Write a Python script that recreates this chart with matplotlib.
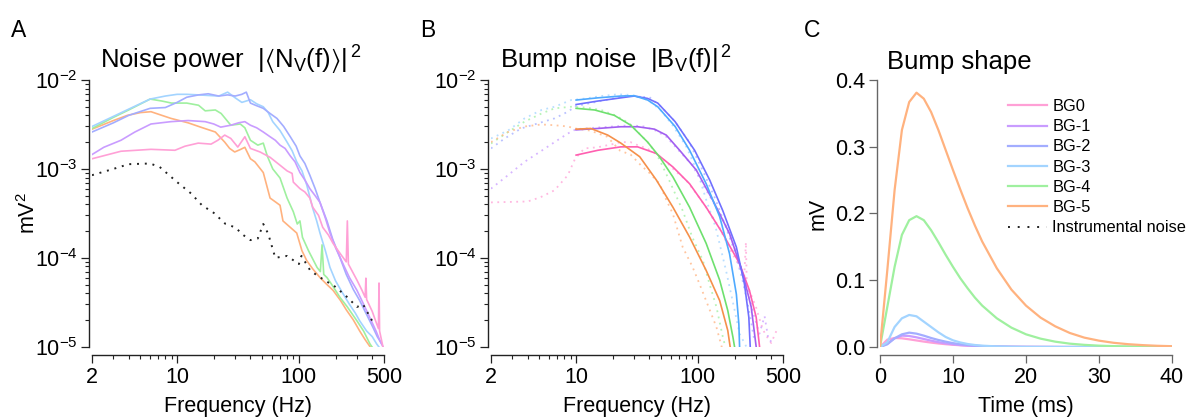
import matplotlib
matplotlib.use("Agg")
import matplotlib.pyplot as plt
from matplotlib.ticker import FixedLocator, FixedFormatter, NullFormatter, LogLocator

plt.rcParams["font.family"] = ["Liberation Sans", "DejaVu Sans"]
plt.rcParams["mathtext.fontset"] = "custom"
plt.rcParams["mathtext.rm"] = "Liberation Sans"
plt.rcParams["mathtext.it"] = "Liberation Sans:italic"
plt.rcParams["mathtext.sf"] = "Liberation Sans"
plt.rcParams["mathtext.fallback"] = "stixsans"

# ---- panel A: noise power spectra (Hz, mV^2) ----
a_bg0_f = [2, 3.46, 6.1, 9.6, 11.6, 14.9, 19, 21.6, 24.6, 27.6, 31.5, 36, 40, 48, 58, 70, 80, 88, 90,
           102, 112, 123, 130, 145, 157, 175, 191, 220, 245, 250, 255, 275, 300, 330, 350, 355, 360,
           400, 436, 450, 455, 460, 490]
a_bg0_p = [1.3e-3, 1.58e-3, 1.66e-3, 1.62e-3, 1.8e-3, 1.95e-3, 1.9e-3, 2.1e-3, 2.4e-3, 2.2e-3, 1.76e-3,
           2.3e-3, 1.7e-3, 1.55e-3, 1.35e-3, 1.1e-3, 9.5e-4, 8.9e-4, 7.1e-4, 6.0e-4, 5.5e-4, 4.7e-4,
           3.7e-4, 3.0e-4, 2.2e-4, 1.8e-4, 1.45e-4, 1.1e-4, 9.0e-5, 2.6e-4, 8.5e-5, 7.0e-5, 5.6e-5,
           4.3e-5, 3.6e-5, 5.9e-5, 3.4e-5, 2.5e-5, 1.8e-5, 1.6e-5, 5.2e-5, 1.5e-5, 1.0e-5]
a_bg1_f = [2, 2.5, 3.46, 4.5, 6.1, 8.9, 12.3, 17, 20, 22.8, 27.6, 32, 36, 40, 45, 51, 58, 64, 70, 77,
           85, 93, 102, 112, 123, 136, 149, 165, 180, 200, 229, 260, 300, 340, 384, 430, 463, 490]
a_bg1_p = [1.45e-3, 1.75e-3, 2.1e-3, 2.6e-3, 3.2e-3, 3.4e-3, 3.5e-3, 3.4e-3, 3.2e-3, 2.95e-3, 3.1e-3,
           3.3e-3, 3.4e-3, 3.1e-3, 2.9e-3, 2.6e-3, 2.3e-3, 2.1e-3, 1.85e-3, 1.7e-3, 1.4e-3, 1.2e-3,
           9.1e-4, 7.5e-4, 6.0e-4, 5.0e-4, 4.2e-4, 2.8e-4, 1.9e-4, 1.3e-4, 8.7e-5, 6.0e-5, 4.3e-5,
           3.0e-5, 2.1e-5, 1.5e-5, 1.17e-5, 1.0e-5]
a_bg2_f = [2, 3, 4, 6, 8, 10, 12, 15, 18, 22, 26, 30, 34, 37, 40, 44, 51, 58, 66, 75, 85, 95, 102,
           112, 123, 136, 149, 170, 190, 215, 245, 280, 316, 360, 405, 440, 480]
a_bg2_p = [2.6e-3, 3.3e-3, 4.0e-3, 4.8e-3, 4.9e-3, 5.6e-3, 6.4e-3, 6.8e-3, 7.0e-3, 6.6e-3, 6.8e-3,
           6.6e-3, 6.9e-3, 7.3e-3, 5.5e-3, 5.2e-3, 4.8e-3, 4.2e-3, 3.7e-3, 3.0e-3, 2.3e-3, 1.8e-3,
           1.4e-3, 1.15e-3, 8.5e-4, 6.0e-4, 4.2e-4, 2.6e-4, 1.6e-4, 1.05e-4, 6.5e-5, 4.4e-5, 3.3e-5,
           2.3e-5, 1.66e-5, 1.3e-5, 1.07e-5]
a_bg3_f = [2, 3, 4, 6, 8, 10, 12, 15, 18, 22, 26, 30, 34, 40, 45, 51, 56, 61, 70, 80, 88, 96, 106,
           116, 130, 140, 149, 165, 180, 200, 229, 260, 290, 316, 360, 400, 436, 480]
a_bg3_p = [3.0e-3, 3.9e-3, 4.7e-3, 6.1e-3, 6.6e-3, 6.9e-3, 6.9e-3, 6.8e-3, 6.7e-3, 6.6e-3, 7.3e-3,
           6.3e-3, 5.6e-3, 6.0e-3, 5.4e-3, 5.0e-3, 4.3e-3, 3.4e-3, 2.7e-3, 2.0e-3, 1.6e-3, 1.2e-3,
           9.5e-4, 6.6e-4, 3.6e-4, 2.6e-4, 1.9e-4, 1.2e-4, 7.8e-5, 5.5e-5, 4.0e-5, 3.0e-5, 2.4e-5,
           1.95e-5, 1.5e-5, 1.3e-5, 1.07e-5, 9e-6]
a_bg4_f = [2, 3, 4, 6, 7.5, 9, 12, 15, 17, 20.6, 23, 27.6, 33, 36, 40, 46, 51, 55, 61, 70, 80, 90,
           97, 102, 107, 120, 141, 150, 155, 160, 170, 190, 217, 250, 300, 340, 384, 420]
a_bg4_p = [2.85e-3, 3.8e-3, 4.6e-3, 6.1e-3, 5.8e-3, 5.5e-3, 5.5e-3, 5.2e-3, 4.5e-3, 4.6e-3, 4.2e-3,
           3.1e-3, 3.2e-3, 2.9e-3, 2.1e-3, 1.85e-3, 1.95e-3, 1.4e-3, 1.0e-3, 7.9e-4, 4.7e-4, 3.3e-4,
           2.4e-4, 2.6e-4, 1.7e-4, 1.2e-4, 7.8e-5, 7.0e-5, 1.4e-4, 6.5e-5, 6.0e-5, 4.8e-5, 3.6e-5,
           2.8e-5, 1.95e-5, 1.5e-5, 1.07e-5, 9e-6]
a_bg5_f = [2, 3, 3.9, 5, 6.1, 7.5, 8.9, 12.3, 15.6, 20.6, 24.6, 27, 29.7, 33, 36, 40, 43.5, 51, 58,
           65, 70, 74, 85, 96, 106, 116, 130, 149, 170, 191, 220, 245, 280, 316, 350, 384]
a_bg5_p = [2.8e-3, 3.5e-3, 4.0e-3, 4.3e-3, 4.4e-3, 4.0e-3, 3.7e-3, 3.3e-3, 2.95e-3, 2.6e-3, 2.0e-3,
           1.7e-3, 1.55e-3, 1.65e-3, 1.75e-3, 1.3e-3, 1.2e-3, 9.1e-4, 4.7e-4, 4.2e-4, 3.9e-4, 2.6e-4,
           2.2e-4, 1.9e-4, 1.2e-4, 9.3e-5, 7.5e-5, 6.0e-5, 5.0e-5, 4.3e-5, 3.3e-5, 2.6e-5, 2.0e-5,
           1.5e-5, 1.2e-5, 1.0e-5]
instr_f = [2, 3, 4, 6, 7.2, 10, 13, 16, 20, 25, 30, 35, 40, 46, 51, 56, 64, 80, 100, 105, 124, 142,
           150, 200, 250, 300, 336, 400, 435]
instr_p = [8.5e-4, 1.0e-3, 1.13e-3, 1.15e-3, 1.05e-3, 7.1e-4, 5.3e-4, 3.9e-4, 3.2e-4, 2.4e-4, 2.2e-4,
           1.8e-4, 1.58e-4, 1.65e-4, 2.4e-4, 1.86e-4, 1.0e-4, 1.05e-4, 8.5e-5, 1.05e-4, 7.2e-5, 6.3e-5,
           6.0e-5, 4.7e-5, 3.6e-5, 2.8e-5, 3.0e-5, 1.95e-5, 1.95e-5]

# ---- panel B: bump noise, raw (dotted) and fits (solid, from 10 Hz) ----
b_raw_bg0_f = [2, 4, 5.1, 6.65, 8.55, 9.8, 11.7, 15, 20, 23.3, 28, 32, 38, 45, 55, 65, 80, 100, 120,
               150, 180, 210, 240, 248, 252, 270, 300, 330, 355, 400, 450]
b_raw_bg0_p = [4.2e-4, 4.3e-4, 4.8e-4, 5.75e-4, 8.5e-4, 1.3e-3, 1.7e-3, 1.75e-3, 1.9e-3, 2.0e-3,
               2.0e-3, 1.85e-3, 1.7e-3, 1.5e-3, 1.2e-3, 9.5e-4, 7.5e-4, 5.0e-4, 3.5e-4, 2.2e-4,
               1.3e-4, 9.0e-5, 6.0e-5, 1.5e-4, 5.0e-5, 4.0e-5, 2.8e-5, 1.8e-5, 1.4e-5, 1.1e-5, 1.6e-5]
b_raw_bg1_f = [2, 2.76, 3.77, 5.2, 6.65, 8.55, 10, 14, 20, 28, 36, 45, 55, 70, 90, 115, 140, 170,
               200, 230, 260, 290, 320, 353, 380, 420]
b_raw_bg1_p = [6.0e-4, 8.5e-4, 1.2e-3, 1.6e-3, 2.0e-3, 2.5e-3, 2.8e-3, 2.9e-3, 3.0e-3, 3.1e-3,
               3.0e-3, 2.7e-3, 2.3e-3, 1.6e-3, 1.1e-3, 6.0e-4, 3.8e-4, 2.3e-4, 1.3e-4, 7.0e-5,
               4.0e-5, 2.2e-5, 1.4e-5, 2.2e-5, 1.2e-5, 1.1e-5]
b_raw_bg2_f = [2, 2.59, 3.54, 4.85, 6.65, 8.55, 10, 14, 20, 26, 32, 40, 50, 65, 85, 110, 140, 170,
               200, 230, 260, 290]
b_raw_bg2_p = [1.7e-3, 2.2e-3, 2.85e-3, 3.25e-3, 3.7e-3, 4.4e-3, 5.1e-3, 5.6e-3, 6.2e-3, 6.7e-3,
               6.5e-3, 6.4e-3, 5.0e-3, 3.4e-3, 2.0e-3, 9.5e-4, 4.5e-4, 2.2e-4, 1.2e-4, 6.0e-5,
               2.8e-5, 1.2e-5]
b_raw_bg3_f = [2, 2.76, 3.77, 5.2, 6.65, 9.1, 12, 16, 22, 28, 35, 42, 50, 62, 80, 100, 117, 140,
               171, 200, 220, 250]
b_raw_bg3_p = [2.2e-3, 2.7e-3, 3.7e-3, 4.6e-3, 5.0e-3, 5.95e-3, 6.2e-3, 6.6e-3, 6.9e-3, 6.8e-3,
               6.4e-3, 5.5e-3, 4.5e-3, 3.1e-3, 1.8e-3, 9.0e-4, 4.5e-4, 2.2e-4, 7.0e-5, 2.6e-5,
               1.4e-5, 1.0e-5]
b_raw_bg4_f = [2, 2.76, 3.77, 5.2, 6.65, 9.1, 12, 16, 21, 27, 33, 40, 48, 58, 75, 90, 110, 125,
               142, 160, 175]
b_raw_bg4_p = [1.93e-3, 2.6e-3, 3.4e-3, 4.2e-3, 4.8e-3, 5.0e-3, 4.9e-3, 4.6e-3, 4.0e-3, 3.3e-3,
               2.5e-3, 1.9e-3, 1.3e-3, 7.5e-4, 3.4e-4, 1.7e-4, 9.3e-5, 5.0e-5, 2.8e-5, 1.3e-5, 8e-6]
b_raw_bg5_f = [2, 2.76, 3.77, 5.2, 6.65, 8.55, 9.8, 13, 18, 23, 28, 34, 40, 48.5, 55, 62.4, 75, 90,
               103, 120, 142, 160]
b_raw_bg5_p = [2.0e-3, 2.6e-3, 3.0e-3, 3.16e-3, 3.1e-3, 3.0e-3, 2.85e-3, 2.7e-3, 2.3e-3, 1.6e-3,
               1.45e-3, 1.1e-3, 9.0e-4, 6.8e-4, 4.5e-4, 3.1e-4, 1.32e-4, 8.0e-5, 5.1e-5, 3.0e-5,
               1.66e-5, 9e-6]

b_fit_bg0_f = [10, 15.1, 23.3, 32, 45.6, 62.4, 85.5, 117, 160, 220, 265, 301, 321]
b_fit_bg0_p = [1.43e-3, 1.62e-3, 1.77e-3, 1.77e-3, 1.49e-3, 1.05e-3, 6.8e-4, 3.7e-4, 1.87e-4,
               8.6e-5, 4.3e-5, 2.15e-5, 1.0e-5]
b_fit_bg1_f = [10, 15.1, 23.3, 32, 44, 55, 70.8, 97, 133, 182, 234, 274, 301]
b_fit_bg1_p = [2.75e-3, 2.85e-3, 2.98e-3, 2.98e-3, 2.8e-3, 2.4e-3, 1.62e-3, 9.7e-4, 4.4e-4,
               1.87e-4, 6.6e-5, 2.8e-5, 1.0e-5]
b_fit_bg2_f = [10, 15.1, 23.3, 30, 38.7, 46.8, 65, 94, 125, 160, 207, 241, 262, 269]
b_fit_bg2_p = [5.3e-3, 5.8e-3, 6.3e-3, 6.6e-3, 6.2e-3, 5.5e-3, 3.4e-3, 1.62e-3, 7.5e-4, 3.4e-4,
               1.32e-4, 5.1e-5, 2.15e-5, 1.0e-5]
b_fit_bg3_f = [10, 15.1, 23.3, 30, 38.7, 46.8, 65, 85.5, 117, 151, 182, 207, 217, 220]
b_fit_bg3_p = [5.95e-3, 6.3e-3, 6.6e-3, 6.65e-3, 5.95e-3, 5.0e-3, 3.0e-3, 1.62e-3, 6.8e-4, 2.9e-4,
               1.11e-4, 3.9e-5, 1.8e-5, 1.0e-5]
b_fit_bg4_f = [10, 14.2, 20.6, 28.1, 38.7, 48.5, 62.4, 85.5, 117, 151, 176, 194, 200]
b_fit_bg4_p = [4.8e-3, 4.6e-3, 4.0e-3, 3.1e-3, 2.0e-3, 1.36e-3, 8.1e-4, 3.7e-4, 1.45e-4, 5.6e-5,
               2.55e-5, 1.28e-5, 1.0e-5]
b_fit_bg5_f = [10, 13.2, 18.2, 23.3, 33.3, 45.6, 62.4, 85.5, 117, 151, 176, 184]
b_fit_bg5_p = [2.8e-3, 2.85e-3, 2.4e-3, 1.95e-3, 1.37e-3, 7.5e-4, 3.7e-4, 1.71e-4, 7.2e-5, 3.3e-5,
               1.52e-5, 1.0e-5]

# ---- panel C: bump shape (ms, mV) ----
t_big = [0, 1, 2, 3, 4, 5, 6, 7, 8, 9, 10, 11, 12, 13, 14, 16, 18, 20, 22, 24, 26, 28, 30, 32, 34,
         36, 38, 40]
c_bg5 = [0, 0.115, 0.235, 0.325, 0.367, 0.381, 0.372, 0.352, 0.325, 0.295, 0.265, 0.236, 0.208,
         0.182, 0.158, 0.118, 0.086, 0.062, 0.044, 0.031, 0.021, 0.014, 0.0095, 0.0063, 0.0042,
         0.0028, 0.0018, 0.0012]
c_bg4 = [0, 0.06, 0.12, 0.168, 0.19, 0.196, 0.19, 0.175, 0.157, 0.138, 0.12, 0.103, 0.088, 0.074,
         0.062, 0.043, 0.029, 0.019, 0.0125, 0.008, 0.005, 0.0032, 0.002, 0.0013, 0.0008, 0.0005,
         0.0003, 0.0002]
t_small = [0, 1, 2, 3, 4, 5, 6, 7, 8, 9, 10, 11, 12, 13, 14, 16, 18, 20, 25, 30, 35, 40]
c_bg3 = [0, 0.007, 0.03, 0.043, 0.048, 0.046, 0.038, 0.03, 0.022, 0.015, 0.01, 0.0068, 0.0045,
         0.003, 0.002, 0.0009, 0.0004, 0.0002, 0, 0, 0, 0]
c_bg2 = [0, 0.004, 0.013, 0.019, 0.0215, 0.02, 0.017, 0.0135, 0.0105, 0.008, 0.0058, 0.0042, 0.003,
         0.002, 0.0014, 0.0007, 0.0003, 0.0001, 0, 0, 0, 0]
c_bg1 = [0, 0.005, 0.013, 0.017, 0.0165, 0.0145, 0.012, 0.0095, 0.0072, 0.0054, 0.004, 0.0029,
         0.0021, 0.0015, 0.001, 0.0005, 0.0002, 0.0001, 0, 0, 0, 0]
c_bg0 = [0, 0.011, 0.0135, 0.013, 0.0115, 0.0098, 0.0081, 0.0066, 0.0053, 0.0042, 0.0033, 0.0026,
         0.002, 0.0015, 0.0012, 0.0007, 0.0004, 0.0002, 0, 0, 0, 0]

labels = ["BG0", "BG-1", "BG-2", "BG-3", "BG-4", "BG-5"]
light = ["#ffa0d6", "#c99cff", "#a3adff", "#a3d4ff", "#9ff09f", "#ffb27f"]
strong = ["#ff5fb0", "#a25ff0", "#7070ff", "#4faaff", "#6ee06e", "#f5904a"]

FS = 15.5  # tick / axis label size

W, H = 1190, 417
fig = plt.figure(figsize=(W / 100, H / 100), dpi=100)


def px_axes(x0, x1, ytop, ybot):
    return fig.add_axes([x0 / W, (H - ybot) / H, (x1 - x0) / W, (ybot - ytop) / H])


def style(ax, spine_color):
    for s in ("top", "right"):
        ax.spines[s].set_visible(False)
    ax.spines["left"].set_position(("outward", 2))
    ax.spines["bottom"].set_position(("outward", 6))
    for s in ("left", "bottom"):
        ax.spines[s].set_color(spine_color)
        ax.spines[s].set_linewidth(1.0)
    ax.tick_params(which="major", direction="out", length=6, width=0.9, color=spine_color,
                   labelsize=FS, pad=2.5)
    ax.tick_params(which="minor", direction="out", length=3.2, width=0.8, color=spine_color)


def log_axes(ax):
    ax.set_xscale("log")
    ax.set_yscale("log")
    ax.set_xlim(2, 500)
    ax.set_ylim(1e-5, 1e-2)
    ax.xaxis.set_major_locator(FixedLocator([2, 10, 100, 500]))
    ax.xaxis.set_major_formatter(FixedFormatter(["2", "10", "100", "500"]))
    ax.xaxis.set_minor_locator(FixedLocator([3, 4, 5, 6, 7, 8, 9, 20, 30, 40, 50, 60, 70, 80, 90,
                                             200, 300, 400]))
    ax.xaxis.set_minor_formatter(NullFormatter())
    ax.yaxis.set_major_locator(LogLocator(base=10))
    ax.yaxis.set_minor_locator(LogLocator(base=10, subs=range(2, 10)))
    ax.yaxis.set_minor_formatter(NullFormatter())
    ax.set_xlabel("Frequency (Hz)", fontsize=FS, labelpad=6)
    style(ax, "#222222")


# A
axA = px_axes(92, 384, 80, 346.7)
a_f = [a_bg0_f, a_bg1_f, a_bg2_f, a_bg3_f, a_bg4_f, a_bg5_f]
a_p = [a_bg0_p, a_bg1_p, a_bg2_p, a_bg3_p, a_bg4_p, a_bg5_p]
for i in [5, 4, 3, 2, 1, 0]:
    axA.plot(a_f[i], a_p[i], color=light[i], lw=1.2, zorder=2 + (5 - i) * 0.1)
axA.plot(instr_f, instr_p, color="#222222", lw=1.4, linestyle=(0, (1, 3)), zorder=3)
log_axes(axA)
axA.set_ylabel(r"mV$^{2}$", fontsize=FS, labelpad=-4)

# B
axB = px_axes(491, 783, 80, 346.7)
b_raw_f = [b_raw_bg0_f, b_raw_bg1_f, b_raw_bg2_f, b_raw_bg3_f, b_raw_bg4_f, b_raw_bg5_f]
b_raw_p = [b_raw_bg0_p, b_raw_bg1_p, b_raw_bg2_p, b_raw_bg3_p, b_raw_bg4_p, b_raw_bg5_p]
b_fit_f = [b_fit_bg0_f, b_fit_bg1_f, b_fit_bg2_f, b_fit_bg3_f, b_fit_bg4_f, b_fit_bg5_f]
b_fit_p = [b_fit_bg0_p, b_fit_bg1_p, b_fit_bg2_p, b_fit_bg3_p, b_fit_bg4_p, b_fit_bg5_p]
for i in range(6):
    axB.plot(b_raw_f[i], b_raw_p[i], color=light[i], lw=1.3, linestyle=(0, (1, 2.5)), alpha=0.75)
for i in range(6):
    axB.plot(b_fit_f[i], b_fit_p[i], color=strong[i], lw=1.2)
log_axes(axB)

# C
axC = px_axes(880, 1172, 80, 347)
c_vals = [c_bg0, c_bg1, c_bg2, c_bg3]
for i in range(4):
    axC.plot(t_small, c_vals[i], color=light[i], lw=1.6, label=labels[i])
axC.plot(t_big, c_bg4, color=light[4], lw=1.6, label=labels[4])
axC.plot(t_big, c_bg5, color=light[5], lw=1.6, label=labels[5])
axC.plot([], [], color="#222222", lw=1.4, linestyle=(0, (1, 4)), label="Instrumental noise")
axC.set_xlim(0, 40)
axC.set_ylim(0, 0.4)
axC.set_xticks([0, 10, 20, 30, 40])
axC.set_yticks([0, 0.1, 0.2, 0.3, 0.4])
axC.set_yticklabels(["0.0", "0.1", "0.2", "0.3", "0.4"])
axC.set_xlabel("Time (ms)", fontsize=FS, labelpad=6)
axC.set_ylabel("mV", fontsize=FS, labelpad=4.5)
style(axC, "#666666")
axC.tick_params(which="major", labelcolor="black")
axC.legend(loc="upper left", bbox_to_anchor=(1008 / W, (H - 99) / H), bbox_transform=fig.transFigure,
           frameon=False, fontsize=11.8, handlelength=2.4, handletextpad=0.3, labelspacing=0.32,
           borderpad=0, borderaxespad=0)

# titles and panel letters
fig.text(100 / W, (H - 69) / H, r"Noise power  $|\langle\mathrm{N_V(f)}\rangle|^{\,2}$", fontsize=18.5,
         va="baseline")
fig.text(500 / W, (H - 69) / H, r"Bump noise  $|\mathrm{B_V(f)}|^{\,2}$", fontsize=18.5, va="baseline")
fig.text(887 / W, (H - 69) / H, "Bump shape", fontsize=18.5, va="baseline")
for x, s in [(11, "A"), (420, "B"), (804, "C")]:
    fig.text(x / W, (H - 37) / H, s, fontsize=16.5, va="baseline")

fig.savefig("out.png", dpi=100)
